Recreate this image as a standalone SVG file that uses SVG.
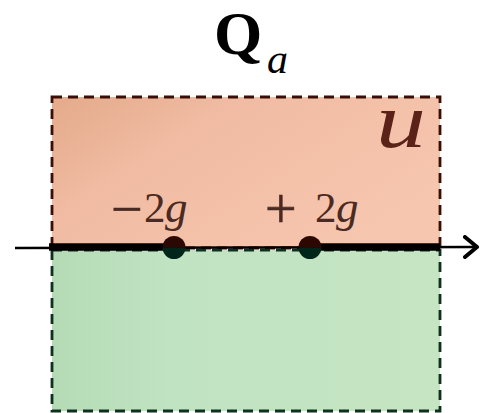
<svg xmlns="http://www.w3.org/2000/svg" width="481" height="413" viewBox="0 0 481 413">
<style>
.math{font-family:"Liberation Serif","Times New Roman",serif;}
.it{font-style:italic;}
.lbl{fill:#4a2a22;}
.op{font-size:56px;stroke:#4a2a22;stroke-width:0.6;}
.box{stroke-width:2.8;stroke-dasharray:10,6;}
</style>
<defs>
<linearGradient id="gu" x1="0" y1="0" x2="1" y2="0.6">
<stop offset="0" stop-color="#e4aa8a"/>
<stop offset="0.35" stop-color="#f0bba2"/>
<stop offset="1" stop-color="#f7c6af"/>
</linearGradient>
<linearGradient id="gl" x1="0" y1="0" x2="1" y2="0">
<stop offset="0" stop-color="#b5dbb5"/>
<stop offset="0.3" stop-color="#c0e3c2"/>
<stop offset="1" stop-color="#c6e5c2"/>
</linearGradient>
<marker id="arr" markerWidth="18" markerHeight="24" refX="14" refY="12" orient="auto" markerUnits="userSpaceOnUse">
<path d="M2,2 L14,12 L2,22" fill="none" stroke="#000" stroke-width="4" stroke-linecap="round" stroke-linejoin="round"/>
</marker>
</defs>
<g id="title"><text class="math" x="214" y="54" font-size="62" font-weight="bold">Q</text><text class="math it" x="267" y="73" font-size="42">a</text></g>
<g id="upper">
<rect class="box" x="52" y="97" width="388" height="151" fill="url(#gu)" stroke="#3a0d05"/>
<text class="math it" transform="translate(376,147) scale(1.28,1)" font-size="78" fill="#5a2218">u</text>
</g>
<g id="lower">
<rect class="box" x="52" y="250" width="388" height="161" fill="url(#gl)" stroke="#0e3020"/>
</g>
<g id="connectors">
<line x1="15" y1="248" x2="477" y2="247" stroke="#000" stroke-width="2.5" marker-end="url(#arr)"/>
<line x1="49" y1="247" x2="174" y2="247" stroke="#000" stroke-width="7.5"/>
<line x1="310" y1="247" x2="440" y2="247" stroke="#000" stroke-width="7.5"/>
</g>
<g id="m2g">
<path d="M162.5,247.5 a11.5,11.5 0 0 1 23,0 z" fill="#2c0805"/>
<path d="M162.5,247.5 a11.5,11.5 0 0 0 23,0 z" fill="#00261a"/>
<text class="math lbl"><tspan class="op" x="111" y="228">−</tspan><tspan x="144" y="222" font-size="43">2</tspan><tspan class="it" x="165" y="222" font-size="45">g</tspan></text>
</g>
<g id="p2g">
<path d="M298.5,247.5 a11.5,11.5 0 0 1 23,0 z" fill="#2c0805"/>
<path d="M298.5,247.5 a11.5,11.5 0 0 0 23,0 z" fill="#00261a"/>
<text class="math lbl"><tspan class="op" x="265" y="228">+</tspan><tspan x="315" y="222" font-size="43">2</tspan><tspan class="it" x="336" y="222" font-size="45">g</tspan></text>
</g>
</svg>
